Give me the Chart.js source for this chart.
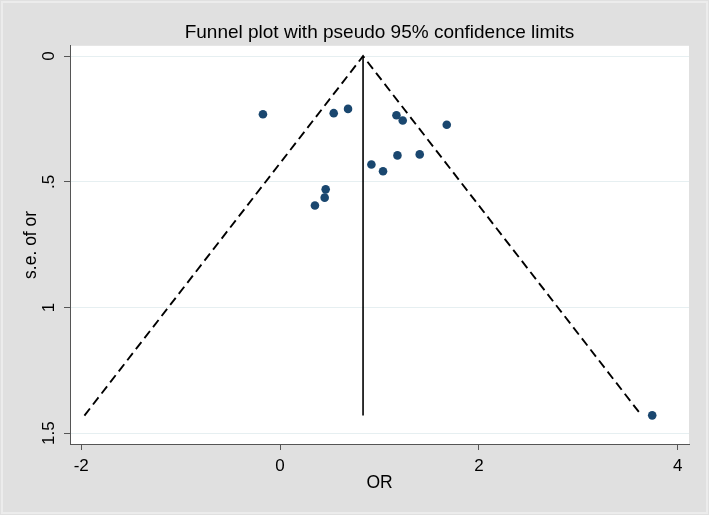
<!DOCTYPE html>
<html>
<head>
<meta charset="utf-8">
<script src="https://cdn.jsdelivr.net/npm/chart.js@4.4.0/dist/chart.umd.min.js"></script>
<style>
  html, body { margin: 0; padding: 0; background: #e0e0e0; }
  #wrap { width: 709px; height: 515px; }
</style>
</head>
<body>
<div id="wrap"><canvas id="funnel" width="709" height="515"></canvas></div>
<script>
// study estimates
const studyOR = [-0.172, 0.540, 0.684, 1.171, 1.234, 1.677, 0.919, 1.036, 1.181, 1.405, 0.459, 0.449, 0.351, 3.744];
const studySE = [0.231, 0.227, 0.210, 0.235, 0.256, 0.273, 0.431, 0.458, 0.395, 0.391, 0.530, 0.563, 0.594, 1.429];

// pooled estimate line and pseudo 95% limits
const pooledX = [0.835, 0.835];
const pooledSE = [0, 1.43];
const limitX = [-1.968, 0.835, 3.638];
const limitSE = [1.43, 0, 1.43];

// axes
const xTicks = [-2, 0, 2, 4];
const xTickLabels = ['-2', '0', '2', '4'];
const yTicks = [0, 0.5, 1, 1.5];
const yTickLabels = ['0', '.5', '1', '1.5'];

const FONT = '"Liberation Sans", Arial, sans-serif';
const AXIS = '#555555';

function pts(xs, ys) {
    return xs.map((x, i) => ({ x: x, y: ys[i] }));
}

// white plot region + light frame round the graph
const plotRegion = {
    id: 'plotRegion',
    beforeDraw(chart) {
        const { ctx, chartArea: a, width, height } = chart;
        ctx.save();
        ctx.fillStyle = '#e0e0e0';
        ctx.fillRect(0, 0, width, height);
        ctx.strokeStyle = '#ececec';
        ctx.lineWidth = 2;
        ctx.strokeRect(2, 2, width - 4, height - 4);
        ctx.fillStyle = '#ffffff';
        ctx.fillRect(a.left, a.top, a.right - a.left, a.bottom - a.top);
        ctx.restore();
    }
};

new Chart(document.getElementById('funnel'), {
    type: 'scatter',
    data: {
        datasets: [
            {
                label: 'studies',
                data: pts(studyOR, studySE),
                backgroundColor: '#1a476f',
                borderWidth: 0,
                pointRadius: 4.3,
                order: 0
            },
            {
                label: 'pooled',
                data: pts(pooledX, pooledSE),
                showLine: true,
                borderColor: '#000000',
                borderWidth: 1.6,
                pointRadius: 0,
                order: 1
            },
            {
                label: 'limits',
                data: pts(limitX, limitSE),
                showLine: true,
                borderColor: '#000000',
                borderWidth: 1.9,
                borderDash: [9, 5],
                pointRadius: 0,
                order: 2
            }
        ]
    },
    options: {
        responsive: false,
        animation: false,
        layout: { padding: { left: 0, right: 20, top: 0, bottom: 0 } },
        plugins: {
            legend: { display: false },
            tooltip: { enabled: false },
            title: {
                display: true,
                fullSize: false,   // centre over the plot region, as Stata does
                text: 'Funnel plot with pseudo 95% confidence limits',
                color: '#000000',
                font: { family: FONT, size: 19, weight: 'normal' },
                padding: { top: 21, bottom: 2 }
            }
        },
        scales: {
            x: {
                type: 'linear',
                min: -2.113,
                max: 4.114,
                afterFit(scale) { scale.height = 71; },
                afterBuildTicks(scale) { scale.ticks = xTicks.map(v => ({ value: v })); },
                ticks: {
                    color: '#000000',
                    font: { family: FONT, size: 17 },
                    padding: 6,
                    autoSkip: false,
                    maxRotation: 0,
                    callback: (v, i) => xTickLabels[i]
                },
                grid: {
                    drawOnChartArea: false,
                    tickLength: 6,
                    tickColor: AXIS
                },
                border: { color: AXIS, width: 1 },
                title: {
                    display: true,
                    text: 'OR',
                    color: '#000000',
                    font: { family: FONT, size: 17.5 },
                    padding: { top: 0, bottom: 21 }
                }
            },
            y: {
                type: 'linear',
                reverse: true,
                min: -0.041,
                max: 1.543,
                afterFit(scale) { scale.width = 70; },
                afterBuildTicks(scale) { scale.ticks = yTicks.map(v => ({ value: v })); },
                ticks: {
                    color: '#000000',
                    font: { family: FONT, size: 17 },
                    padding: 3,
                    crossAlign: 'center',
                    minRotation: 90,
                    maxRotation: 90,
                    autoSkip: false,
                    callback: (v, i) => yTickLabels[i]
                },
                grid: {
                    color: '#e6eff1',
                    lineWidth: 1,
                    tickLength: 6,
                    tickColor: AXIS
                },
                border: { color: AXIS, width: 1 },
                title: {
                    display: true,
                    text: 's.e. of or',
                    color: '#000000',
                    font: { family: FONT, size: 17.5 },
                    padding: { top: 20.5, bottom: 0 }
                }
            }
        }
    },
    plugins: [plotRegion]
});
</script>
</body>
</html>
